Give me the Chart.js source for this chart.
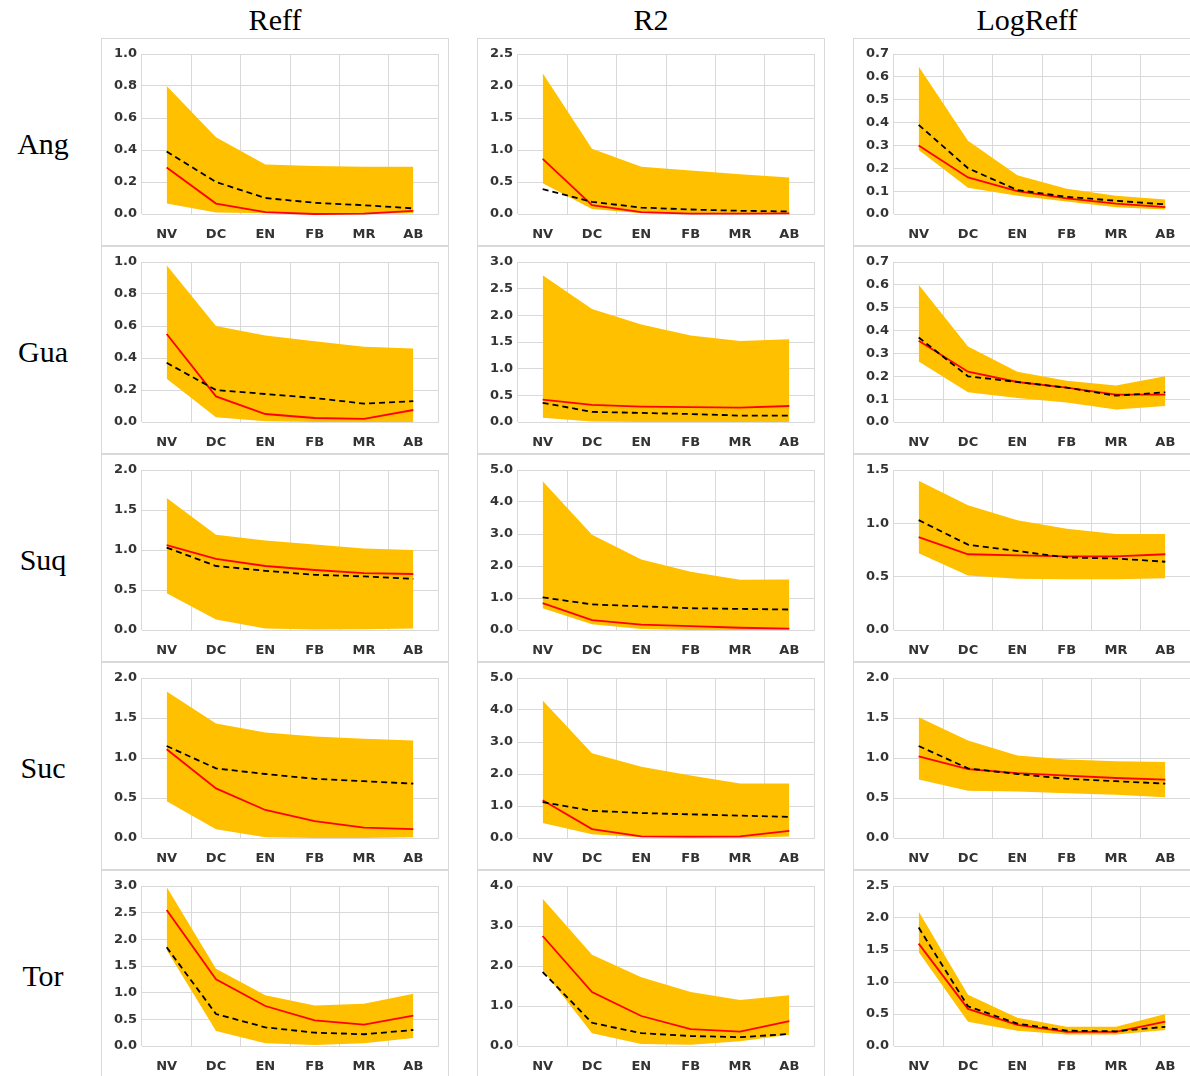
<!DOCTYPE html>
<html lang="en">
<head>
    <meta charset="UTF-8">
    <title>Reff / R2 / LogReff</title>
    <style>
        body { margin: 0; width: 1190px; height: 1076px; overflow: hidden; background: #fff; position: relative; }
        .panel { position: absolute; width: 348px; height: 208px; border: 1px solid #d9d9d9; box-sizing: border-box; background: #fff; }
        .title { position: absolute; font-family: "Liberation Serif", serif; font-size: 30px; color: #000; transform: translate(-50%, -50%); white-space: nowrap; }
    </style>
</head>
<body>
<script src="https://cdn.jsdelivr.net/npm/chart.js@4.4.0/dist/chart.umd.min.js"></script>
<script>
    const categories = ['NV', 'DC', 'EN', 'FB', 'MR', 'AB'];
    const rowNames = ['Ang', 'Gua', 'Suq', 'Suc', 'Tor'];
    const colNames = ['Reff', 'R2', 'LogReff'];

    // y axis ranges, per row then column
    const yMax = [[1.0, 2.5, 0.7], [1.0, 3.0, 0.7], [2.0, 5.0, 1.5], [2.0, 5.0, 2.0], [3.0, 4.0, 2.5]];
    const yStep = [[0.2, 0.5, 0.1], [0.2, 0.5, 0.1], [0.5, 1.0, 0.5], [0.5, 1.0, 0.5], [0.5, 1.0, 0.5]];

    // Ang
    const angReffUpper = [0.80, 0.48, 0.31, 0.30, 0.295, 0.295];
    const angReffLower = [0.065, 0.01, 0.005, 0, 0, 0.005];
    const angReffRed = [0.29, 0.065, 0.012, 0.0, 0.002, 0.02];
    const angReffDash = [0.39, 0.20, 0.10, 0.07, 0.055, 0.035];
    const angR2Upper = [2.20, 1.02, 0.74, 0.68, 0.62, 0.57];
    const angR2Lower = [0.48, 0.08, 0.01, 0, 0, 0];
    const angR2Red = [0.86, 0.14, 0.03, 0.005, 0.005, 0.01];
    const angR2Dash = [0.39, 0.19, 0.10, 0.07, 0.05, 0.04];
    const angLogUpper = [0.645, 0.32, 0.17, 0.11, 0.08, 0.063];
    const angLogLower = [0.28, 0.115, 0.08, 0.055, 0.03, 0.02];
    const angLogRed = [0.30, 0.16, 0.10, 0.068, 0.045, 0.03];
    const angLogDash = [0.39, 0.20, 0.105, 0.075, 0.058, 0.042];

    // Gua
    const guaReffUpper = [0.98, 0.60, 0.54, 0.505, 0.47, 0.46];
    const guaReffLower = [0.27, 0.03, 0.005, 0, 0, 0];
    const guaReffRed = [0.55, 0.16, 0.05, 0.025, 0.02, 0.075];
    const guaReffDash = [0.37, 0.20, 0.175, 0.15, 0.115, 0.13];
    const guaR2Upper = [2.75, 2.12, 1.83, 1.62, 1.52, 1.55];
    const guaR2Lower = [0.08, 0.01, 0, 0, 0, 0];
    const guaR2Red = [0.42, 0.32, 0.29, 0.28, 0.27, 0.30];
    const guaR2Dash = [0.36, 0.19, 0.17, 0.15, 0.12, 0.12];
    const guaLogUpper = [0.60, 0.33, 0.22, 0.18, 0.16, 0.20];
    const guaLogLower = [0.265, 0.13, 0.105, 0.085, 0.055, 0.07];
    const guaLogRed = [0.355, 0.22, 0.175, 0.15, 0.12, 0.12];
    const guaLogDash = [0.37, 0.20, 0.175, 0.15, 0.115, 0.13];

    // Suq
    const suqReffUpper = [1.65, 1.19, 1.12, 1.07, 1.02, 1.00];
    const suqReffLower = [0.46, 0.13, 0.02, 0.005, 0.01, 0.02];
    const suqReffRed = [1.06, 0.89, 0.80, 0.75, 0.71, 0.70];
    const suqReffDash = [1.03, 0.80, 0.74, 0.69, 0.67, 0.64];
    const suqR2Upper = [4.65, 2.98, 2.20, 1.82, 1.57, 1.58];
    const suqR2Lower = [0.68, 0.18, 0.03, 0, 0, 0];
    const suqR2Red = [0.84, 0.31, 0.17, 0.12, 0.07, 0.04];
    const suqR2Dash = [1.02, 0.80, 0.74, 0.68, 0.66, 0.64];
    const suqLogUpper = [1.40, 1.17, 1.03, 0.95, 0.90, 0.90];
    const suqLogLower = [0.72, 0.51, 0.48, 0.475, 0.475, 0.485];
    const suqLogRed = [0.87, 0.71, 0.70, 0.69, 0.69, 0.71];
    const suqLogDash = [1.03, 0.80, 0.74, 0.68, 0.67, 0.64];

    // Suc
    const sucReffUpper = [1.83, 1.43, 1.32, 1.27, 1.24, 1.22];
    const sucReffLower = [0.46, 0.11, 0.01, 0, 0, 0.01];
    const sucReffRed = [1.11, 0.62, 0.35, 0.21, 0.13, 0.11];
    const sucReffDash = [1.15, 0.87, 0.80, 0.74, 0.71, 0.68];
    const sucR2Upper = [4.30, 2.65, 2.23, 1.95, 1.70, 1.70];
    const sucR2Lower = [0.47, 0.12, 0.02, 0, 0, 0.05];
    const sucR2Red = [1.18, 0.28, 0.05, 0.04, 0.05, 0.22];
    const sucR2Dash = [1.12, 0.85, 0.78, 0.74, 0.70, 0.66];
    const sucLogUpper = [1.51, 1.22, 1.03, 0.98, 0.96, 0.95];
    const sucLogLower = [0.73, 0.59, 0.58, 0.56, 0.54, 0.51];
    const sucLogRed = [1.02, 0.86, 0.81, 0.78, 0.75, 0.73];
    const sucLogDash = [1.15, 0.87, 0.80, 0.74, 0.71, 0.68];

    // Tor
    const torReffUpper = [2.98, 1.45, 0.95, 0.76, 0.79, 0.98];
    const torReffLower = [1.80, 0.28, 0.05, 0.02, 0.05, 0.15];
    const torReffRed = [2.55, 1.25, 0.75, 0.48, 0.40, 0.57];
    const torReffDash = [1.85, 0.60, 0.35, 0.25, 0.22, 0.30];
    const torR2Upper = [3.68, 2.28, 1.72, 1.35, 1.15, 1.27];
    const torR2Lower = [1.90, 0.32, 0.05, 0.03, 0.12, 0.28];
    const torR2Red = [2.75, 1.35, 0.75, 0.42, 0.36, 0.62];
    const torR2Dash = [1.85, 0.58, 0.32, 0.25, 0.22, 0.30];
    const torLogUpper = [2.10, 0.80, 0.44, 0.30, 0.30, 0.50];
    const torLogLower = [1.47, 0.38, 0.24, 0.18, 0.18, 0.25];
    const torLogRed = [1.60, 0.58, 0.33, 0.22, 0.22, 0.38];
    const torLogDash = [1.85, 0.62, 0.35, 0.24, 0.23, 0.30];

    const grid = [
        [[angReffUpper, angReffLower, angReffRed, angReffDash], [angR2Upper, angR2Lower, angR2Red, angR2Dash], [angLogUpper, angLogLower, angLogRed, angLogDash]],
        [[guaReffUpper, guaReffLower, guaReffRed, guaReffDash], [guaR2Upper, guaR2Lower, guaR2Red, guaR2Dash], [guaLogUpper, guaLogLower, guaLogRed, guaLogDash]],
        [[suqReffUpper, suqReffLower, suqReffRed, suqReffDash], [suqR2Upper, suqR2Lower, suqR2Red, suqR2Dash], [suqLogUpper, suqLogLower, suqLogRed, suqLogDash]],
        [[sucReffUpper, sucReffLower, sucReffRed, sucReffDash], [sucR2Upper, sucR2Lower, sucR2Red, sucR2Dash], [sucLogUpper, sucLogLower, sucLogRed, sucLogDash]],
        [[torReffUpper, torReffLower, torReffRed, torReffDash], [torR2Upper, torR2Lower, torR2Red, torR2Dash], [torLogUpper, torLogLower, torLogRed, torLogDash]]
    ];

    const panelLeft = [101, 477, 853];
    const panelTop0 = 38;
    const panelH = 208;

    function addText(txt, x, y) {
        const d = document.createElement('div');
        d.className = 'title';
        d.textContent = txt;
        d.style.left = x + 'px';
        d.style.top = y + 'px';
        document.body.appendChild(d);
    }

    colNames.forEach((name, c) => addText(name, panelLeft[c] + 174, 20));
    rowNames.forEach((name, r) => addText(name, 43, panelTop0 + r * panelH + 106));

    const tickFont = {family: 'DejaVu Sans', size: 13, weight: 'bold'};

    function makeChart(r, c) {
        const [upper, lower, red, dash] = grid[r][c];
        const div = document.createElement('div');
        div.className = 'panel';
        div.style.left = panelLeft[c] + 'px';
        div.style.top = (panelTop0 + r * panelH) + 'px';
        const canvas = document.createElement('canvas');
        div.appendChild(canvas);
        document.body.appendChild(div);

        new Chart(canvas.getContext('2d'), {
            type: 'line',
            data: {
                labels: categories,
                datasets: [
                    {data: dash, borderColor: '#000000', borderWidth: 1.8, borderDash: [6, 4], pointRadius: 0, fill: false, clip: 4},
                    {data: red, borderColor: '#ff0000', borderWidth: 1.8, pointRadius: 0, fill: false, clip: 4},
                    {data: upper, borderWidth: 0, borderColor: 'rgba(0,0,0,0)', backgroundColor: '#ffc000', pointRadius: 0, fill: '+1'},
                    {data: lower, borderWidth: 0, borderColor: 'rgba(0,0,0,0)', pointRadius: 0, fill: false}
                ]
            },
            options: {
                responsive: true,
                maintainAspectRatio: false,
                animation: false,
                devicePixelRatio: 1,
                layout: {padding: {top: 15, right: 10, bottom: 0, left: 0}},
                plugins: {
                    legend: {display: false},
                    tooltip: {enabled: false},
                    filler: {drawTime: 'beforeDatasetsDraw'}
                },
                scales: {
                    x: {
                        offset: true,
                        grid: {offset: true, color: '#d9d9d9', drawTicks: false},
                        border: {color: '#d9d9d9'},
                        ticks: {font: tickFont, color: '#333333', padding: 13, maxRotation: 0},
                        afterFit: s => { s.height = 31; }
                    },
                    y: {
                        min: 0,
                        max: yMax[r][c],
                        grid: {color: '#d9d9d9', drawTicks: false},
                        border: {display: false},
                        ticks: {stepSize: yStep[r][c], font: tickFont, color: '#333333', padding: 5,
                            callback: v => Number(v).toFixed(1)},
                        afterFit: s => { s.width = 40; }
                    }
                }
            }
        });
    }

    for (let r = 0; r < 5; r++) {
        for (let c = 0; c < 3; c++) {
            makeChart(r, c);
        }
    }
</script>
</body>
</html>
